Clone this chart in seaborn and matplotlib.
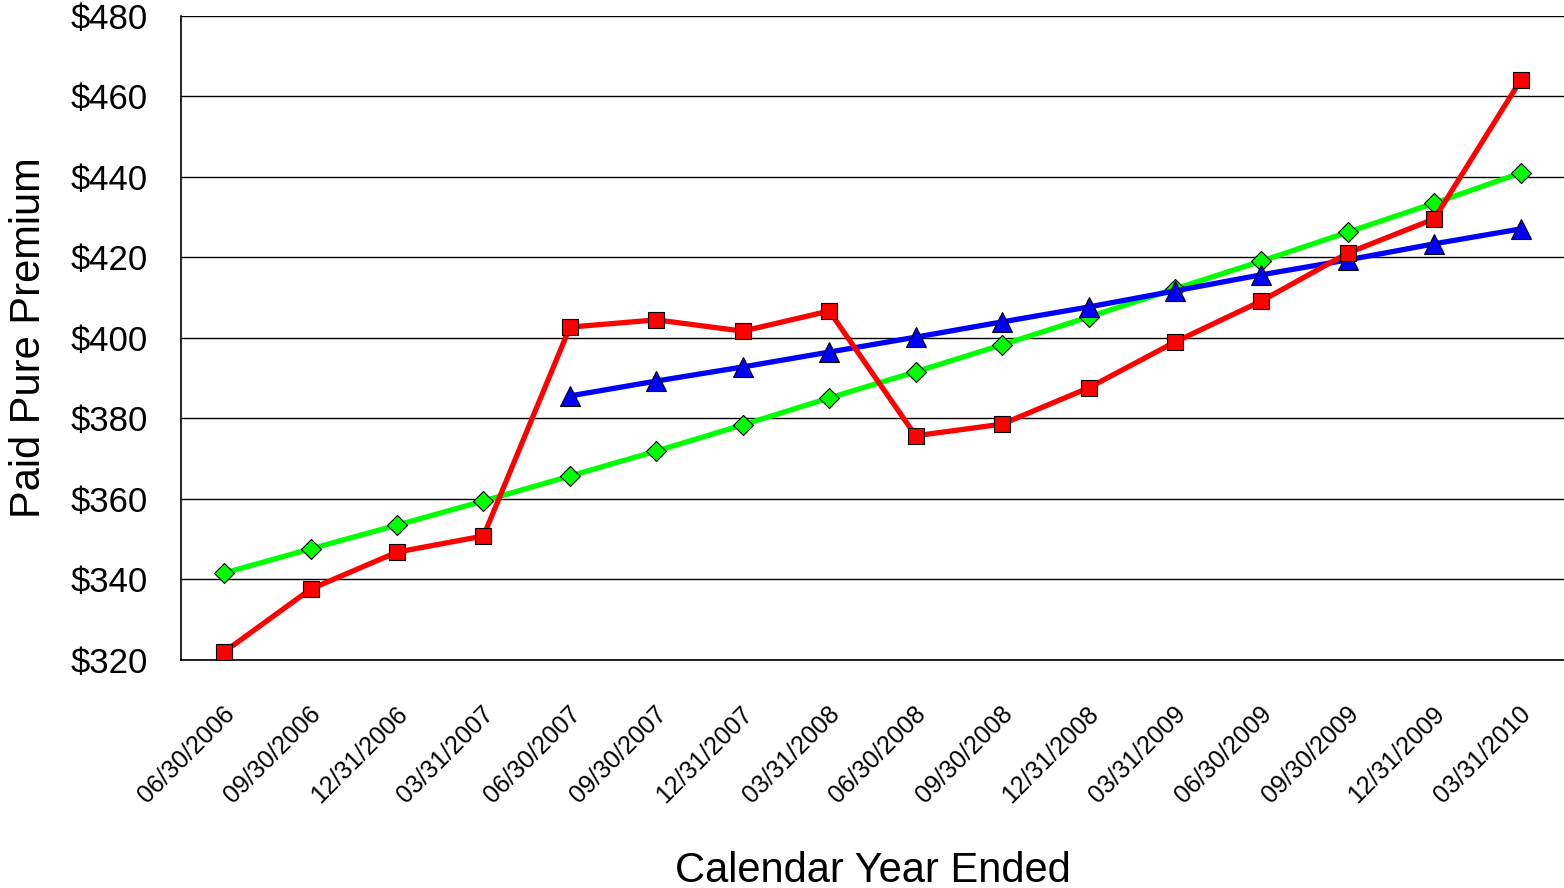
import numpy as np
import pandas as pd
import matplotlib
matplotlib.use("Agg")
import matplotlib.pyplot as plt
import matplotlib.transforms as mtransforms
import seaborn as sns
from matplotlib.ticker import FuncFormatter

# data
quarters = ["06/30/2006", "09/30/2006", "12/31/2006", "03/31/2007",
            "06/30/2007", "09/30/2007", "12/31/2007", "03/31/2008",
            "06/30/2008", "09/30/2008", "12/31/2008", "03/31/2009",
            "06/30/2009", "09/30/2009", "12/31/2009", "03/31/2010"]
actual = [322.0, 337.6, 346.8, 350.8, 402.7, 404.5, 401.7, 406.7,
          375.7, 378.6, 387.6, 399.0, 409.2, 421.1, 429.6, 464.1]
fitted_all = [341.6, 347.6, 353.5, 359.5, 365.7, 371.9, 378.4, 385.1,
              391.6, 398.3, 405.2, 412.2, 419.1, 426.3, 433.5, 441.0]
fitted_recent = [np.nan, np.nan, np.nan, np.nan, 385.6, 389.3, 392.8, 396.5,
                 400.2, 404.0, 407.7, 411.7, 415.7, 419.4, 423.4, 427.1]

df = pd.DataFrame({
    "pos": np.arange(len(quarters)),
    "actual": actual,
    "fitted_all": fitted_all,
    "fitted_recent": fitted_recent,
})

sns.set_style("white")
plt.rcParams["font.family"] = ["Liberation Sans", "DejaVu Sans"]
plt.rcParams["text.color"] = "black"
plt.rcParams["axes.labelcolor"] = "black"
plt.rcParams["xtick.color"] = "black"
plt.rcParams["ytick.color"] = "black"

fig = plt.figure(figsize=(15.64, 8.88), dpi=100)
ax = fig.add_axes([0.1157, 0.2568, 0.8843, 0.7252])

sns.lineplot(data=df, x="pos", y="fitted_all", ax=ax, color="#00FF00",
             linewidth=3.8, marker="D", markersize=10, markeredgecolor="black",
             markeredgewidth=0.8, zorder=3)
sns.lineplot(data=df, x="pos", y="fitted_recent", ax=ax, color="#0000FF",
             linewidth=3.8, marker="^", markersize=14, markeredgecolor="black",
             markeredgewidth=0.8, zorder=4)
sns.lineplot(data=df, x="pos", y="actual", ax=ax, color="#FF0000",
             linewidth=3.8, marker="s", markersize=12, markeredgecolor="black",
             markeredgewidth=0.8, zorder=5)

ax.set_xlim(-0.5, len(quarters) - 0.5)
ax.set_ylim(320, 480)
ax.set_yticks(np.arange(320, 481, 20))
ax.yaxis.set_major_formatter(FuncFormatter(lambda v, p: f"${v:.0f}"))
ax.set_xticks(df["pos"])
ax.set_xticklabels(quarters, rotation=45, ha="right", rotation_mode="anchor",
                   fontsize=18)
ax.tick_params(axis="y", labelsize=25, pad=24, length=0)
ax.tick_params(axis="x", length=0, pad=30)
shift = mtransforms.ScaledTranslation(-2 / 100, 0, fig.dpi_scale_trans)
for lab in ax.get_xticklabels():
    lab.set_transform(lab.get_transform() + shift)

ax.grid(axis="y", color="black", linewidth=1)
ax.grid(axis="x", visible=False)
for side in ["top", "right"]:
    ax.spines[side].set_visible(False)
for side in ["left", "bottom"]:
    ax.spines[side].set_color("black")
    ax.spines[side].set_linewidth(1.2)

ax.set_xlabel("Calendar Year Ended", fontsize=30, labelpad=31)
ax.set_ylabel("Paid Pure Premium", fontsize=30)
ax.yaxis.set_label_coords(-0.0954, 0.5)

fig.savefig("out.png", dpi=100)
